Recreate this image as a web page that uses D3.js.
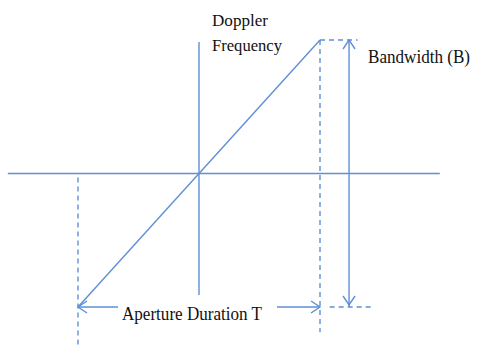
<!DOCTYPE html>
<html><head><meta charset="utf-8">
<script src="https://cdn.jsdelivr.net/npm/d3@7"></script>
<style>body{margin:0;background:#fff}svg{display:block}</style>
</head><body>
<svg id="c" width="477" height="345"></svg>
<script>
// data (normalised time t and Doppler frequency f)
const timeExtent = [-1, 1];          // aperture duration T
const freqExtent = [-1, 1];          // bandwidth B
const chirpT = [-1, 1];
const chirpF = [-1, 1];
const hAxisT = [-1.58, 1.99];
const vAxisF = [-0.91, 0.985];
const bandwidthT = 1.24;
const leftDashF = [-0.03, -1.3];
const rightDashF = [1, -1.19];
const topDashT = [1, 1.31];
const bottomDashT = [1.08, 1.43];
const labels = ["Doppler", "Frequency", "Bandwidth (B)", "Aperture Duration T"];

const svg = d3.select("#c");
const x = d3.scaleLinear().domain(timeExtent).range([78, 320]);
const y = d3.scaleLinear().domain(freqExtent).range([307, 40]);
const col = "#5f8fd6";
const line = d3.line().x(d => x(d[0])).y(d => y(d[1]));

function seg(p, dashed) {
  svg.append("path").attr("d", line(p)).attr("fill", "none")
    .attr("stroke", col).attr("stroke-width", 1.4)
    .attr("stroke-dasharray", dashed ? "5,4" : null);
}
function head(px, py, dx, dy) {
  const L = 9, W = 6;
  const bx = px - dx * L, by = py - dy * L;
  const nx = -dy, ny = dx;
  svg.append("path")
    .attr("d", `M${bx + nx * W},${by + ny * W}L${px},${py}L${bx - nx * W},${by - ny * W}`)
    .attr("fill", "none").attr("stroke", col).attr("stroke-width", 1.4);
}

// axes
seg([[hAxisT[0], 0], [hAxisT[1], 0]]);
seg([[0, vAxisF[0]], [0, vAxisF[1]]]);
// chirp line
seg(chirpT.map((t, i) => [t, chirpF[i]]));
// dashed guides
seg([[timeExtent[0], leftDashF[0]], [timeExtent[0], leftDashF[1]]], true);
seg([[timeExtent[1], rightDashF[0]], [timeExtent[1], rightDashF[1]]], true);
seg([[topDashT[0], freqExtent[1]], [topDashT[1], freqExtent[1]]], true);
seg([[bottomDashT[0], freqExtent[0]], [bottomDashT[1], freqExtent[0]]], true);
// bandwidth arrow
seg([[bandwidthT, freqExtent[0]], [bandwidthT, freqExtent[1]]]);
head(x(bandwidthT), y(freqExtent[1]), 0, -1);
head(x(bandwidthT), y(freqExtent[0]) - 2, 0, 1);
// aperture arrow
const aY = y(freqExtent[0]);
svg.append("line").attr("x1", x(timeExtent[0])).attr("x2", 118).attr("y1", aY).attr("y2", aY)
  .attr("stroke", col).attr("stroke-width", 1.4);
svg.append("line").attr("x1", 277).attr("x2", x(timeExtent[1])).attr("y1", aY).attr("y2", aY)
  .attr("stroke", col).attr("stroke-width", 1.4);
head(x(timeExtent[0]), aY, -1, 0);
head(x(timeExtent[1]), aY, 1, 0);

// text
const tx = svg.append("g").attr("font-family", "'Liberation Serif', 'Times New Roman', serif")
  .attr("fill", "#111");
function label(s, px, py, size, len) {
  tx.append("text").attr("x", px).attr("y", py).attr("font-size", size)
    .attr("textLength", len).attr("lengthAdjust", "spacingAndGlyphs").text(s);
}
label(labels[0], 212, 26, 17, 56);
label(labels[1], 212, 51, 17, 70);
label(labels[2], 368, 63, 18, 102);
label(labels[3], 122, 320, 19, 140);
</script>
</body></html>
